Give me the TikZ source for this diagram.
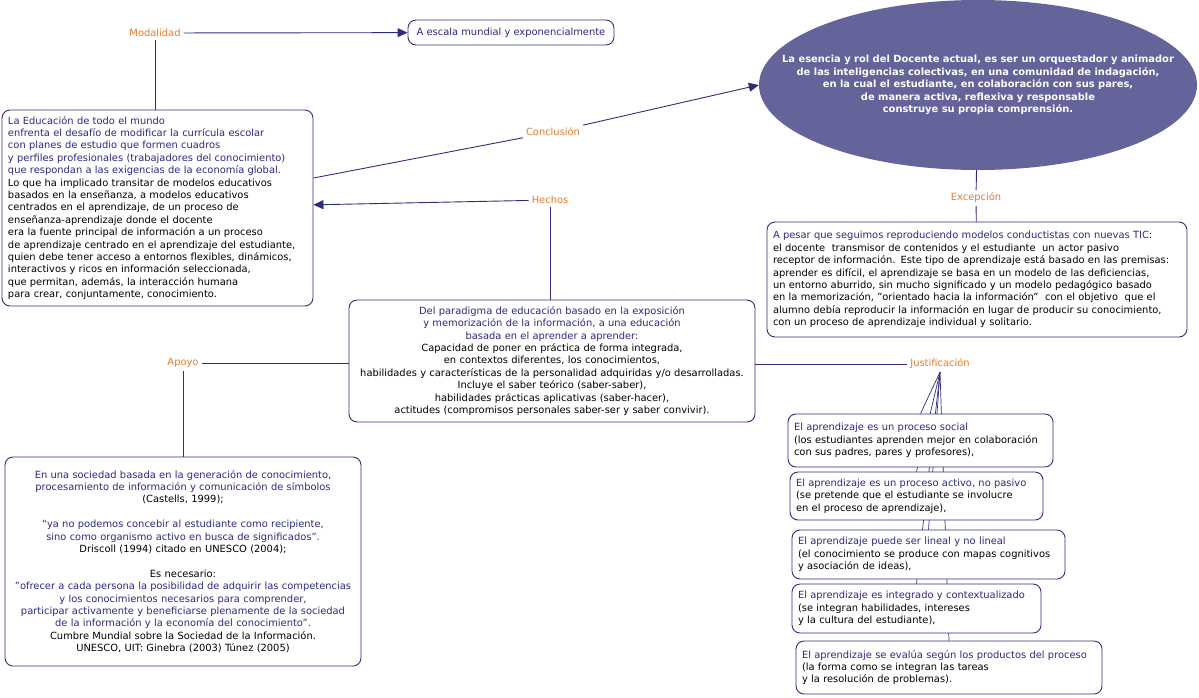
\documentclass[tikz,border=0pt]{standalone}
\usepackage{fontspec}
\setmainfont{DejaVu Sans}
\usepackage{xcolor}
\usepackage{tikz}
\usetikzlibrary{positioning,arrows.meta,backgrounds,shapes.geometric}
\definecolor{navy}{HTML}{2E2E78}
\definecolor{tblue}{HTML}{2A2A82}
\definecolor{lbl}{HTML}{E5792B}
\definecolor{ellfill}{HTML}{64649A}
\newcommand{\bl}[1]{\textcolor{tblue}{#1}}

\begin{document}
\begin{tikzpicture}[x=1pt,y=-1pt,font=\fontsize{9.9}{12.4}\selectfont,
     lnk/.style={draw=navy,line width=.9pt},
     arr/.style={lnk,-{Triangle[length=10pt,width=9pt]}},
     rel/.style={text=lbl,inner sep=3pt},
     box/.style={draw=navy,line width=.9pt,rounded corners=8pt,fill=white,inner sep=6pt},
     lbox/.style={box,align=left},
     cbox/.style={box,align=center}]
    \useasboundingbox (0,0) rectangle (1199,697);
    % concepts
    \node[cbox,minimum width=206pt,minimum height=25pt,text=tblue](esc) at (511,32.5){A escala mundial y exponencialmente};
    \node[lbox,text width=299pt,minimum height=196pt](lt) at (157.5,208){\bl{La Educación de todo el mundo}\\
      \bl{enfrenta el desafío de modificar la currícula escolar}\\
      \bl{con planes de estudio que formen cuadros}\\
      \bl{y perfiles profesionales (trabajadores del conocimiento)}\\
      \bl{que respondan a las exigencias de la economía global.}\\
      Lo que ha implicado transitar de modelos educativos\\
      basados en la enseñanza, a modelos educativos\\
      centrados en el aprendizaje, de un proceso de\\
      enseñanza-aprendizaje donde el docente\\
      era la fuente principal de información a un proceso\\
      de aprendizaje centrado en el aprendizaje del estudiante,\\
      quien debe tener acceso a entornos flexibles, dinámicos,\\
      interactivos y ricos en información seleccionada,\\
      que permitan, además, la interacción humana\\
      para crear, conjuntamente, conocimiento.};
    \node[ellipse,fill=ellfill,minimum width=438pt,minimum height=170pt,inner sep=0pt](ell) at (978,85){};
    \node[text=white,align=center,font=\fontsize{9.9}{12.4}\selectfont\bfseries](ellt) at (ell){La esencia y rol del Docente actual, es ser un orquestador y animador\\
      de las inteligencias colectivas, en una comunidad de indagación,\\
      en la cual el estudiante, en colaboración con sus pares,\\
      de manera activa, reflexiva y responsable\\
      construye su propia comprensión.};
    \node[lbox,text width=408pt,minimum height=115pt](exb) at (977,279.5){\bl{A pesar que seguimos reproduciendo modelos conductistas con nuevas TIC}:\\
      el docente\ \ transmisor de contenidos y el estudiante\ \ un actor pasivo\\
      receptor de información. Este tipo de aprendizaje está basado en las premisas:\\
      aprender es difícil, el aprendizaje se basa en un modelo de las deficiencias,\\
      un entorno aburrido, sin mucho significado y un modelo pedagógico basado\\
      en la memorización, "orientado hacia la información"\ \ con el objetivo\ \ que el\\
      alumno debía reproducir la información en lugar de producir su conocimiento,\\
      con un proceso de aprendizaje individual y solitario.};
    \node[cbox,text width=394pt,minimum height=122pt](mid) at (552,361){\bl{Del paradigma de educación basado en la exposición}\\
      \bl{y memorización de la información, a una educación}\\
      \bl{basada en el aprender a aprender:}\\
      Capacidad de poner en práctica de forma integrada,\\
      en contextos diferentes, los conocimientos,\\
      habilidades y características de la personalidad adquiridas y/o desarrolladas.\\
      Incluye el saber teórico (saber-saber),\\
      habilidades prácticas aplicativas (saber-hacer),\\
      actitudes (compromisos personales saber-ser y saber convivir).};
    \node[cbox,text width=344pt,minimum height=209pt](bl) at (183,561.5){\bl{En una sociedad basada en la generación de conocimiento,}\\
      \bl{procesamiento de información y comunicación de símbolos}\\
      (Castells, 1999);\\[12.4pt]
      \bl{“ya no podemos concebir al estudiante como recipiente,}\\
      \bl{sino como organismo activo en busca de significados”.}\\
      Driscoll (1994) citado en UNESCO (2004);\\[12.4pt]
      Es necesario:\\
      \bl{"ofrecer a cada persona la posibilidad de adquirir las competencias}\\
      \bl{y los conocimientos necesarios para comprender,}\\
      \bl{participar activamente y beneficiarse plenamente de la sociedad}\\
      \bl{de la información y la economía del conocimiento".}\\
      Cumbre Mundial sobre la Sociedad de la Información.\\
      UNESCO, UIT: Ginebra (2003) Túnez (2005)};
    \node[lbox,text width=253pt,minimum height=53pt](j1) at (920.5,440.5){\bl{El aprendizaje es un proceso social}\\
      (los estudiantes aprenden mejor en colaboración\\
      con sus padres, pares y profesores),};
    \node[lbox,text width=241pt,minimum height=48pt](j2) at (916.5,496){\bl{El aprendizaje es un proceso activo, no pasivo}\\
      (se pretende que el estudiante se involucre\\
      en el proceso de aprendizaje),};
    \node[lbox,text width=261pt,minimum height=49pt](j3) at (928.5,554.5){\bl{El aprendizaje puede ser lineal y no lineal}\\
      (el conocimiento se produce con mapas cognitivos\\
      y asociación de ideas),};
    \node[lbox,text width=237pt,minimum height=49pt](j4) at (916.5,608.5){\bl{El aprendizaje es integrado y contextualizado}\\
      (se integran habilidades, intereses\\
      y la cultura del estudiante),};
    \node[lbox,text width=294pt,minimum height=53pt](j5) at (949,667.5){\bl{El aprendizaje se evalúa según los productos del proceso}\\
      (la forma como se integran las tareas\\
      y la resolución de problemas).};
    % linking phrases
    \node[rel](mod) at (155,33){Modalidad};
    \node[rel](con) at (553,132){Conclusión};
    \node[rel](hec) at (550,200){Hechos};
    \node[rel](exc) at (976,198){Excepción};
    \node[rel](apo) at (183,363){Apoyo};
    \node[rel](jus) at (940,364){Justificación};
    % connectors
    \draw[arr](mod)--(esc);
    \draw[lnk](mod)--(lt.north -| mod);
    \draw[lnk]([yshift=30pt]lt.east)--(con);
    \draw[arr](con)--(ell.west);
    \draw[arr](hec)--(lt);
    \draw[lnk](hec)--(mid.north -| hec);
    \draw[lnk](ell)--(exc);
    \draw[lnk](exc)--(exb);
    \draw[lnk](mid.west |- apo)--(apo);
    \draw[lnk](apo)--(bl.north -| apo);
    \draw[lnk](mid.east |- jus)--(jus);
    \begin{scope}[on background layer]
      \foreach \j in {j1,j2,j3,j4,j5}{\draw[lnk,line width=.7pt](jus.south)--(\j.north);}
    \end{scope}
  \end{tikzpicture}
\end{document}
